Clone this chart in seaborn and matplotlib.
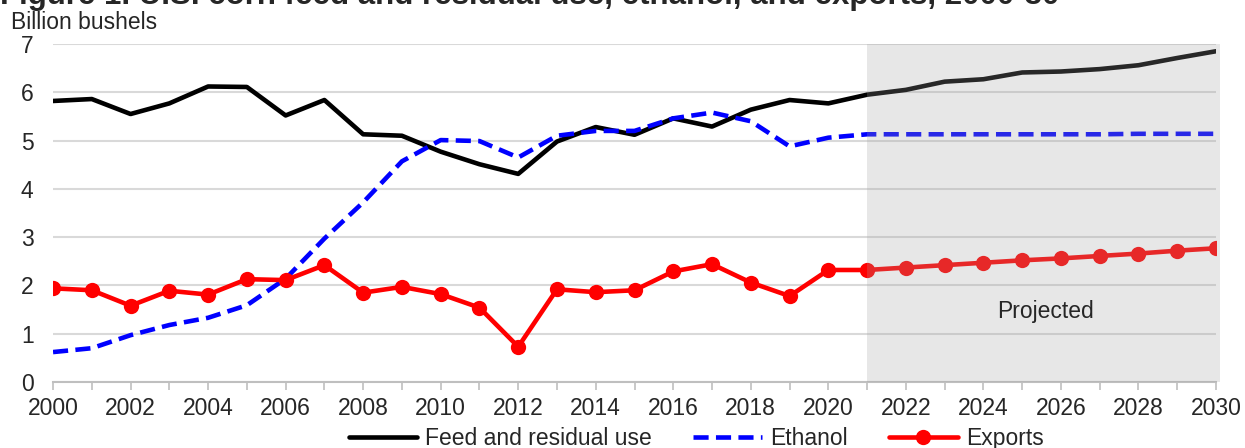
import numpy as np
import pandas as pd
import seaborn as sns
import matplotlib.pyplot as plt
from matplotlib.ticker import MultipleLocator

years = list(range(2000, 2031))
feed = [5.82, 5.86, 5.55, 5.77, 6.12, 6.11, 5.52, 5.84, 5.13, 5.10,
        4.77, 4.51, 4.31, 4.98, 5.28, 5.12, 5.46, 5.29, 5.64, 5.84,
        5.77, 5.95, 6.05, 6.22, 6.27, 6.41, 6.43, 6.48, 6.56, 6.71, 6.85]
ethanol = [0.62, 0.70, 0.97, 1.18, 1.33, 1.59, 2.14, 2.97, 3.72, 4.57,
           5.01, 4.99, 4.65, 5.10, 5.20, 5.20, 5.46, 5.58, 5.40, 4.88,
           5.06, 5.13, 5.13, 5.13, 5.13, 5.13, 5.13, 5.13, 5.14, 5.14, 5.14]
exports = [1.94, 1.90, 1.58, 1.89, 1.81, 2.13, 2.11, 2.42, 1.85, 1.97,
           1.82, 1.54, 0.73, 1.92, 1.86, 1.90, 2.29, 2.44, 2.06, 1.78,
           2.32, 2.32, 2.37, 2.42, 2.47, 2.52, 2.56, 2.61, 2.66, 2.72, 2.77]

title = "Figure 1. U.S. corn feed and residual use, ethanol, and exports, 2000-30"

df = pd.DataFrame({"year": years, "feed": feed, "ethanol": ethanol, "exports": exports})

sns.set_style("white")
plt.rcParams['font.family'] = ['Liberation Sans', 'DejaVu Sans']

fig = plt.figure(figsize=(12.45, 4.48), dpi=100)
ax = fig.add_axes([0.0426, 0.1473, 0.9341, 0.7545])

sns.lineplot(data=df, x="year", y="feed", ax=ax, color="black", lw=3.3,
             label="Feed and residual use", zorder=3)
sns.lineplot(data=df, x="year", y="ethanol", ax=ax, color="#0000ff", lw=3.3,
             label="Ethanol", zorder=3)
ax.get_lines()[-1].set_dashes((3.3, 1.6))
sns.lineplot(data=df, x="year", y="exports", ax=ax, color="#ff0000", lw=3.3,
             marker="o", markersize=11, markeredgewidth=0, label="Exports", zorder=4)

# projected shading drawn on top, semi-transparent
ax.axvspan(2021, 2030.1, ymin=0, ymax=1, color="#a2a2a2", alpha=0.25, lw=0,
           zorder=5, clip_on=False)
ax.text(25.6 + 2000, 1.47, "Projected", fontsize=16.5, ha="center", va="center", zorder=6)

ax.set_xlim(2000, 2030)
ax.set_ylim(0, 7)
ax.yaxis.set_major_locator(MultipleLocator(1))
ax.set_xticks(years)
ax.set_xticklabels([str(y) if y % 2 == 0 else "" for y in years])
ax.grid(axis="y", color="#d9d9d9", lw=1.5)
ax.set_axisbelow(True)
for s in ["left", "right", "top"]:
    ax.spines[s].set_visible(False)
ax.spines["bottom"].set_color("#bfbfbf")
ax.spines["bottom"].set_linewidth(1.5)
ax.tick_params(axis="x", length=6, width=1.2, color="#bfbfbf", direction="out",
               labelsize=16.5, pad=5, bottom=True)
ax.tick_params(axis="y", length=0, labelsize=16.5, pad=14)
ax.set_xlabel("")
ax.set_ylabel("")

leg = ax.legend(loc="center", bbox_to_anchor=(0.553, -0.166), ncol=3, frameon=False,
                fontsize=16.5, handlelength=3.0, handletextpad=0.35, columnspacing=1.8,
                borderaxespad=0, borderpad=0)

fig.text(0.0, 0.991, title, fontsize=22.5, fontweight="bold", ha="left", va="baseline")
fig.text(0.009, 0.949, "Billion bushels", fontsize=16.5, ha="left", va="center")

fig.savefig("out.png", dpi=100)
